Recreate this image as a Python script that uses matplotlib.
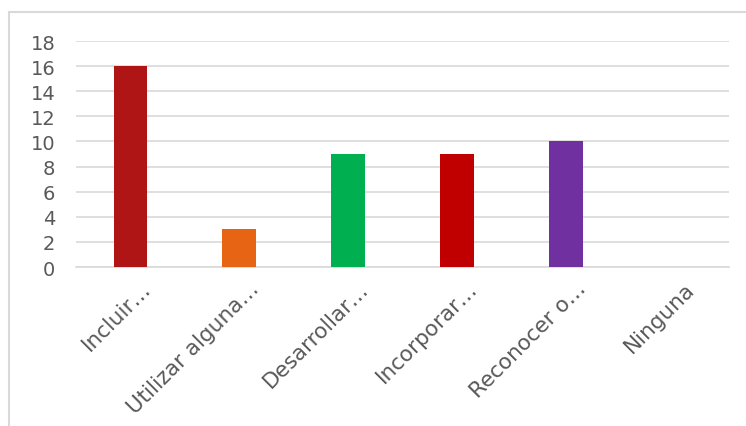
import matplotlib
matplotlib.use("Agg")
import matplotlib.pyplot as plt
from matplotlib.patches import Rectangle
from matplotlib.transforms import ScaledTranslation

categories = ["Incluir…", "Utilizar alguna…", "Desarrollar…", "Incorporar…", "Reconocer o…", "Ninguna"]
values = [16, 3, 9, 9, 10, 0]
colors = ["#B01515", "#E86415", "#00B050", "#C00000", "#7030A0", "#7F7F7F"]

plt.rcParams['font.family'] = ['DejaVu Sans']

fig = plt.figure(figsize=(7.46, 4.27), dpi=100)
ax = fig.add_axes([76/746, 1 - 268/427, (729 - 76)/746, (268 - 42)/427])

x = range(len(categories))
ax.bar(x, values, width=0.31, color=colors, zorder=3)

ax.set_xlim(-0.5, len(categories) - 0.5)
ax.set_ylim(0, 18)
ax.set_yticks(range(0, 19, 2))
ax.yaxis.grid(True, color="#D9D9D9", linewidth=1.2, zorder=0)
for s in ["top", "right", "left"]:
    ax.spines[s].set_visible(False)
ax.spines["bottom"].set_color("#D9D9D9")
ax.spines["bottom"].set_linewidth(1.2)
ax.tick_params(axis="both", length=0, colors="#595959")
ax.tick_params(axis="y", labelsize=14, pad=15)
ax.set_xticks(list(x))
ax.set_xticklabels(categories, rotation=45, ha="right", va="top", rotation_mode="anchor", fontsize=15.5)
for lbl in ax.get_xticklabels():
    lbl.set_transform(lbl.get_transform() + ScaledTranslation(0.10, -0.06, fig.dpi_scale_trans))

# chart frame
fig.patches.append(Rectangle((9/746, -0.1), 1.2, 1 - 13/427 + 0.1, transform=fig.transFigure,
                             fill=False, edgecolor="#D9D9D9", linewidth=1.5))

fig.savefig("out.png", dpi=100)
